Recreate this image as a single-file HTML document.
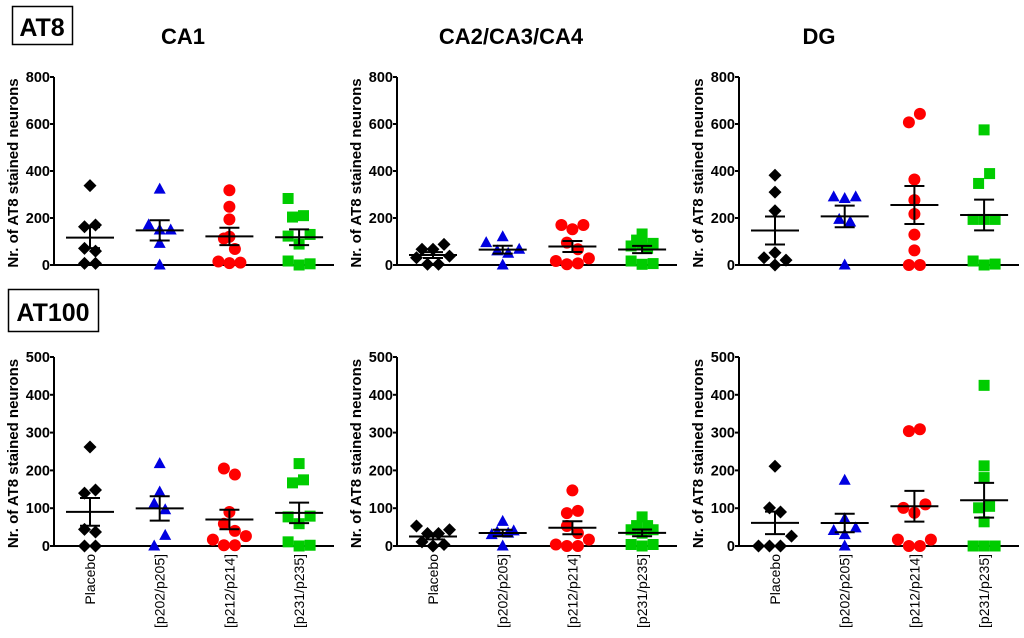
<!DOCTYPE html>
<html><head><meta charset="utf-8"><style>
html,body{margin:0;padding:0;background:#fff;}
svg{display:block;font-family:"Liberation Sans",Arial,sans-serif;}
</style></head><body>
<svg id="fig" width="1024" height="638" viewBox="0 0 1024 638" xmlns="http://www.w3.org/2000/svg">
<rect x="12.5" y="6.5" width="60" height="38" fill="none" stroke="#000" stroke-width="1.5"/>
<text x="42" y="36" font-size="25" font-weight="bold" text-anchor="middle">AT8</text>
<rect x="8.5" y="289.5" width="90" height="42" fill="none" stroke="#000" stroke-width="1.5"/>
<text x="53" y="321" font-size="25" font-weight="bold" text-anchor="middle">AT100</text>
<text x="183" y="44" font-size="22" font-weight="bold" text-anchor="middle">CA1</text>
<text x="511" y="44" font-size="22" font-weight="bold" text-anchor="middle">CA2/CA3/CA4</text>
<text x="819" y="44" font-size="22" font-weight="bold" text-anchor="middle">DG</text>
</svg>
<script>
const groups = ["Placebo","[p202/p205]","[p212/p214]","[p231/p235]"];
const colors = ["#000000","#0000e0","#ff0000","#00cc00"];
const shapes = ["diamond","triangle","circle","square"];
const ticksAT8 = [0,200,400,600,800];
const ticksAT100 = [0,100,200,300,400,500];
// each point: [value, horizontal jitter in marker widths]
const at8CA1 = [
 [[338,0],[163,-.5],[170,.5],[71,-.5],[59,.5],[7,-.5],[7,.5]],
 [[323,0],[171,-1],[149,0],[149,1],[92,0],[0,0]],
 [[318,0],[248,0],[194,0],[113,-.5],[120,0],[68,.5],[15,-1],[8,0],[10,1]],
 [[283,-1],[204,-.6],[210,.4],[123,-1],[130,1],[89,0],[17,-1],[0,0],[5,1]]];
const at8CA2 = [
 [[67,-1],[67,0],[88,1],[31,-1.5],[38,1.5],[3,-.5],[3,.5]],
 [[95,-1.5],[120,0],[60,-.5],[50,.5],[67,1.5],[0,0]],
 [[170,-1],[152,0],[170,1],[95,-.5],[67,.5],[28,1.5],[17,-1.5],[3,-.5],[7,.5]],
 [[132,0],[106,-.5],[92,1],[81,-1],[71,.5],[86,0],[17,-1],[3,0],[6,1]]];
const at8DG = [
 [[382,0],[310,0],[231,0],[52,0],[31,-1],[21,1],[0,0]],
 [[290,-1],[283,0],[290,1],[194,-.5],[183,.5],[0,0]],
 [[607,-.5],[643,.5],[364,0],[276,0],[217,0],[129,0],[62,0],[0,-.5],[0,.5]],
 [[575,0],[389,.5],[347,-.5],[194,-1],[194,0],[194,1],[17,-1],[0,0],[4,1]]];
const at100CA1 = [
 [[262,0],[140,-.5],[148,.5],[44,-.5],[37,.5],[0,-.5],[0,.5]],
 [[218,0],[143,0],[112,-.5],[96,.5],[28,.5],[0,-.5]],
 [[205,-.5],[189,.5],[90,0],[59,-.5],[40,.5],[26,1.5],[17,-1.5],[2,-.5],[2,.5]],
 [[218,0],[167,-.6],[175,.4],[77,-1],[79,1],[59,0],[11,-1],[0,0],[2,1]]];
const at100CA2 = [
 [[53,-1.5],[33,-.5],[33,.5],[43,1.5],[11,-1],[0,0],[4,1]],
 [[65,0],[37,-.5],[34,.5],[40,1],[30,-1],[0,0]],
 [[147,0],[87,-.5],[93,.5],[53,-.5],[34,.5],[17,1.5],[4,-1.5],[0,-.5],[0,.5]],
 [[77,0],[54,-.5],[54,.5],[43,-1],[43,1],[34,0],[4,-1],[0,0],[4,1]]];
const at100DG = [
 [[211,0],[101,-.5],[90,.5],[26,1.5],[0,-1.5],[0,-.5],[0,.5]],
 [[174,0],[72,0],[41,-1],[48,1],[30,0],[0,0]],
 [[304,-.5],[309,.5],[101,-1],[110,1],[88,0],[17,-1.5],[17,1.5],[0,-.5],[0,.5]],
 [[425,0],[212,0],[181,0],[101,-.5],[105,.5],[64,0],[0,-1],[0,0],[0,1]]];

const NS="http://www.w3.org/2000/svg";
const svg=document.getElementById('fig');
function mk(tag,attrs,parent){const e=document.createElementNS(NS,tag);for(const k in attrs)e.setAttribute(k,attrs[k]);(parent||svg).appendChild(e);return e;}

function panel(name,data,ticks,axX,y0,yTop,showX){
  const g=mk('g',{});
  
  
  const ymax=ticks[ticks.length-1];
  const ys=v=>y0-(v/ymax)*(y0-yTop);
  const xs=i=>axX+36+i*69.7;
  const ax=mk('line',{x1:axX,y1:yTop,x2:axX,y2:y0,stroke:'#000','stroke-width':2},g);
  
  
  const xa=mk('line',{x1:axX,y1:y0,x2:axX+280,y2:y0,stroke:'#000','stroke-width':2},g);
  
  
  ticks.forEach(t=>{
    mk('line',{x1:axX-4,y1:ys(t),x2:axX,y2:ys(t),stroke:'#000','stroke-width':2},g);
    const tl=mk('text',{x:axX-4,y:ys(t)+5,'font-size':14.5,'font-weight':'bold','text-anchor':'end'},g);
    tl.textContent=t;
    
    
  });
  const yt=mk('text',{x:0,y:0,'font-size':15,'font-weight':'bold','text-anchor':'middle',transform:`translate(${axX-36},${(y0+yTop)/2+2}) rotate(-90)`},g);
  yt.textContent='Nr. of AT8 stained neurons';
  
  
  data.forEach((pts,i)=>{
    const cx=xs(i),c=colors[i],s=shapes[i];
    pts.forEach(p=>{
      const x=cx+p[1]*11,y=ys(p[0]);let m;
      if(s==='diamond')m=mk('polygon',{points:`${x},${y-6.5} ${x+6.5},${y} ${x},${y+6.5} ${x-6.5},${y}`,fill:c},g);
      else if(s==='triangle')m=mk('polygon',{points:`${x},${y-6.5} ${x+6},${y+4.5} ${x-6},${y+4.5}`,fill:c},g);
      else if(s==='circle')m=mk('circle',{cx:x,cy:y,r:6,fill:c},g);
      else m=mk('rect',{x:x-5.5,y:y-5.5,width:11,height:11,fill:c},g);
      
      
    });
    const vals=pts.map(p=>p[0]);const n=vals.length;
    const mean=vals.reduce((a,b)=>a+b,0)/n;
    const sd=Math.sqrt(vals.reduce((a,b)=>a+(b-mean)*(b-mean),0)/(n-1));
    const sem=sd/Math.sqrt(n);
    const ml=mk('line',{x1:cx-24,y1:ys(mean),x2:cx+24,y2:ys(mean),stroke:'#000','stroke-width':2},g);
    
    
    const eb=mk('path',{d:`M${cx},${ys(mean+sem)}V${ys(mean-sem)}M${cx-10},${ys(mean+sem)}H${cx+10}M${cx-10},${ys(mean-sem)}H${cx+10}`,stroke:'#000','stroke-width':2,fill:'none'},g);
    
    
    if(showX){
      const xl=mk('text',{x:0,y:0,'font-size':14,'text-anchor':'end',transform:`translate(${cx+5},${y0+8}) rotate(-90)`},g);
      xl.textContent=groups[i];
      
      
    }
  });
}
panel('at8-ca1',at8CA1,ticksAT8,54,265,77,false);
panel('at8-ca2-ca3-ca4',at8CA2,ticksAT8,397,265,77,false);
panel('at8-dg',at8DG,ticksAT8,739,265,77,false);
panel('at100-ca1',at100CA1,ticksAT100,54,546,357,true);
panel('at100-ca2-ca3-ca4',at100CA2,ticksAT100,397,546,357,true);
panel('at100-dg',at100DG,ticksAT100,739,546,357,true);
</script>
</body></html>
